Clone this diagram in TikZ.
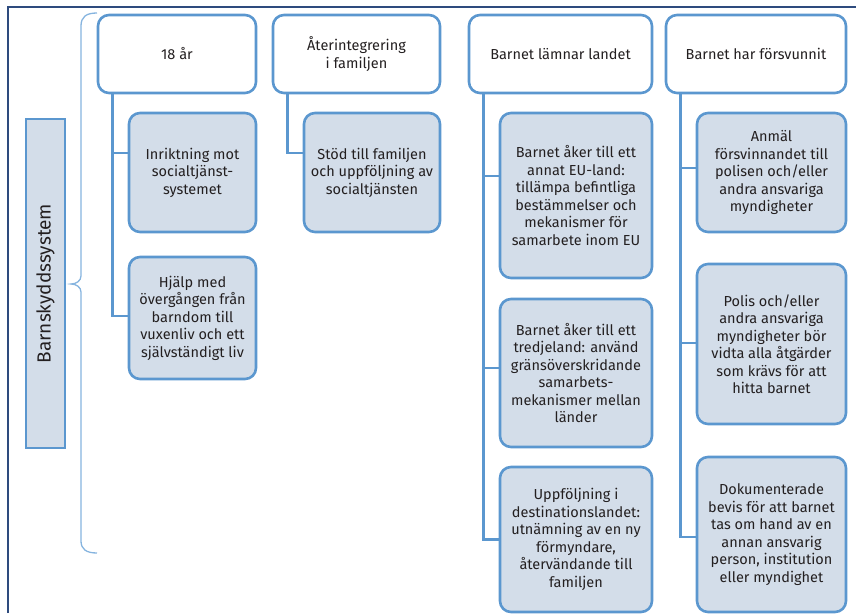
\documentclass[tikz,border=0pt]{standalone}
\usepackage{fontspec}
\setmainfont{Fira Sans}
\usetikzlibrary{positioning}
\definecolor{boxblue}{HTML}{5B97CF}
\definecolor{boxfill}{HTML}{D3DDE9}
\definecolor{bracebl}{HTML}{86B4DF}
\definecolor{framebl}{HTML}{2E4B7E}
\definecolor{txtgray}{HTML}{231F20}
\tikzset{
    boxw/.style = {rectangle, rounded corners=11pt, line width=2.6pt, draw=boxblue, fill=white, align=center, inner sep=0pt, font=\fontsize{14.5}{17.5}\selectfont, text=txtgray},
    boxb/.style = {boxw, fill=boxfill},
    boxs/.style = {rectangle, line width=2.6pt, draw=boxblue, fill=boxfill, inner sep=0pt, font=\fontsize{19}{22}\selectfont, text=txtgray},
    edgeb/.style = {-, line width=2.6pt, boxblue},
    edgebr/.style = {-, line width=1.3pt, bracebl}, % brace
    edgef/.style = {-, line width=1.5pt, framebl}, % frame
}

\begin{document}
\begin{tikzpicture}[x=1pt,y=-1pt]
%
\path[use as bounding box] (0,0) rectangle (856,613);
\draw[edgef] (8,613) -- (8,7) -- (856,7);
%
\node[boxs, rotate=90, minimum width=329pt, minimum height=39pt] at (45.5,283.5) (sys) {Barnskyddssystem};
\draw[edgebr] (97,13) .. controls (86,13) and (81,17) .. (81,26) -- (81,276)
    .. controls (81,281) and (76,284) .. (71,284)
    .. controls (76,284) and (81,287) .. (81,292) -- (81,541)
    .. controls (81,549) and (86,553) .. (97,553);
%
\node[boxw, minimum width=158pt, minimum height=78pt] at (177,54) (t1) {18 år};
\node[boxw, minimum width=167pt, minimum height=78pt] at (356.5,54) (t2) {Återintegrering\\i familjen};
\node[boxw, minimum width=183pt, minimum height=78pt] at (560.5,54) (t3) {Barnet lämnar landet};
\node[boxw, minimum width=180pt, minimum height=78pt] at (756,54) (t4) {Barnet har försvunnit};
%
\node[boxb, minimum width=127pt, minimum height=119pt] at (192.5,172.5) (c1) {Inriktning mot\\socialtjänst-\\systemet};
\node[boxb, minimum width=127pt, minimum height=122pt] at (192.5,318) (c2) {Hjälp med\\övergången från\\barndom till\\vuxenliv och ett\\självständigt liv};
\node[boxb, minimum width=136pt, minimum height=119pt] at (372,172.5) (c3) {Stöd till familjen\\och uppföljning av\\socialtjänsten};
%
\node[boxb, minimum width=152pt, minimum height=165pt] at (576,195.5) (d1) {Barnet åker till ett\\annat EU-land:\\tillämpa befintliga\\bestämmelser och\\mekanismer för\\samarbete inom EU};
\node[boxb, minimum width=152pt, minimum height=148pt] at (576,373) (d2) {Barnet åker till ett\\tredjeland: använd\\gränsöverskridande\\samarbets-\\mekanismer mellan\\länder};
\node[boxb, minimum width=152pt, minimum height=145pt] at (576,539.5) (d3) {Uppföljning i\\destinationslandet:\\utnämning av en ny\\förmyndare,\\återvändande till\\familjen};
%
\node[boxb, minimum width=149pt, minimum height=119pt] at (771.5,172.5) (e1) {Anmäl\\försvinnandet till\\polisen och/eller\\andra ansvariga\\myndigheter};
\node[boxb, minimum width=149pt, minimum height=160pt] at (771.5,344) (e2) {Polis och/eller\\andra ansvariga\\myndigheter bör\\vidta alla åtgärder\\som krävs för att\\hitta barnet};
\node[boxb, minimum width=149pt, minimum height=155pt] at (771.5,534.5) (e3) {Dokumenterade\\bevis för att barnet\\tas om hand av en\\annan ansvarig\\person, institution\\eller myndighet};
%
\draw[edgeb] ([xshift=16pt]t1.south west) |- ([yshift=19.5pt]c1.west);
\draw[edgeb] ([xshift=16pt]t1.south west) |- ([yshift=2pt]c2.west);
\draw[edgeb] ([xshift=16pt]t2.south west) |- ([yshift=19.5pt]c3.west);
\draw[edgeb] ([xshift=16pt]t3.south west) |- ([yshift=19.5pt]d1.west);
\draw[edgeb] ([xshift=16pt]t3.south west) |- ([yshift=5pt]d2.west);
\draw[edgeb] ([xshift=16pt]t3.south west) |- (d3.west);
\draw[edgeb] ([xshift=16pt]t4.south west) |- ([yshift=4.5pt]e1.west);
\draw[edgeb] ([xshift=16pt]t4.south west) |- ([yshift=1pt]e2.west);
\draw[edgeb] ([xshift=16pt]t4.south west) |- ([yshift=-2.5pt]e3.west);

\end{tikzpicture}
\end{document}
